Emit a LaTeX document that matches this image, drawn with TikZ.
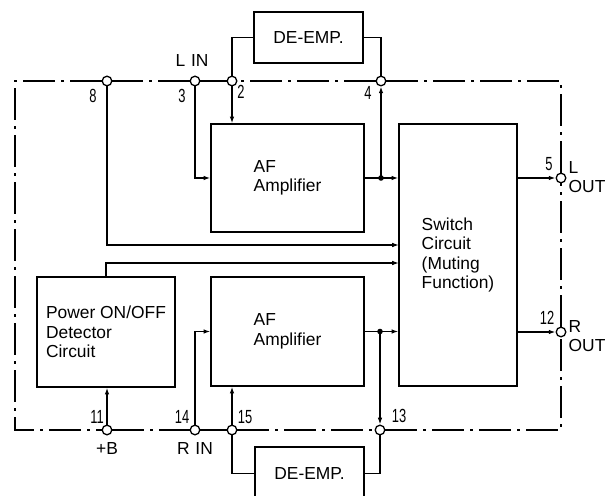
\documentclass[tikz,border=0pt]{standalone}
\usepackage{fontspec}
\setmainfont{Liberation Sans}
\usepackage{graphicx}
\usetikzlibrary{arrows.meta}
\newcommand{\nm}[1]{\scalebox{0.68}[1]{#1}}
\begin{document}
\begin{tikzpicture}[x=0.5pt,y=-0.5pt,
  line width=0.65pt,
  >={Latex[length=3.4pt,width=2.3pt]},
  blk/.style={draw,inner sep=0pt,font=\fontsize{8.7}{9.8}\selectfont},
  term/.style={circle,draw,fill=white,inner sep=0pt,minimum size=4.8pt},
  frame/.style={dash pattern=on 16pt off 3pt on 1.5pt off 3pt},
  lbl/.style={inner sep=0pt,font=\fontsize{8.7}{9.8}\selectfont},
  num/.style={inner sep=0pt,font=\fontsize{9.5}{10}\selectfont}]
\useasboundingbox (0,0) rectangle (616,496);
\clip (0,0) rectangle (616,496);
% boxes
\node[blk, minimum width=54.5pt, minimum height=25.5pt] (deT) at (308.5,37.5) {DE-EMP.};
\node[blk, minimum width=76.5pt, minimum height=54pt, align=left] (ampL) at (287.5,178) {AF\\Amplifier};
\node[blk, minimum width=59pt, minimum height=131pt, align=left] (sw) at (458,255) {Switch\\Circuit\\(Muting\\Function)};
\node[blk, minimum width=69pt, minimum height=55pt, align=left] (pw) at (106,332) {Power ON/OFF\\Detector\\Circuit};
\node[blk, minimum width=76.5pt, minimum height=54.5pt, align=left] (ampR) at (287.5,331.5) {AF\\Amplifier};
\node[blk, minimum width=54.5pt, minimum height=26.5pt] (deB) at (309.5,473.5) {DE-EMP.};
% terminals
\node[term] (t8) at (107,81) {};
\node[term] (t3) at (195,81) {};
\node[term] (t2) at (232,81) {};
\node[term] (t4) at (381,81) {};
\node[term] (t5) at (561,178) {};
\node[term] (t12) at (561,332) {};
\node[term] (t11) at (107,430) {};
\node[term] (t14) at (195,430) {};
\node[term] (t15) at (232,430) {};
\node[term] (t13) at (380,430) {};
% frame corners
\coordinate (cTL) at (15,81);
\coordinate (cTR) at (561,81);
\coordinate (cBR) at (561,430);
\coordinate (cBL) at (15,430);
\draw[frame] (t8.west) -- (cTL) -- (cBL) -- (t11.west);
\draw[frame] (t11.east) -- (t14.west);
\draw[frame] (t14.east) -- (t15.west);
\draw[frame] (t15.east) -- (t13.west);
\draw[frame] (t13.east) -- (cBR) -- (t12.south);
\draw[frame] (t12.north) -- (t5.south);
\draw[frame] (t5.north) -- (cTR) -- (t4.east);
\draw[frame] (t4.west) -- (t2.east);
\draw[frame] (t2.west) -- (t3.east);
\draw[frame] (t3.west) -- (t8.east);
% junctions and inputs
\coordinate (dL) at (t4 |- ampL.east);
\coordinate (dR) at (t13 |- ampR.east);
\coordinate (in8) at (399,245);
\coordinate (inPw) at (399,263);
% top connections
\draw (deT.west) -| (t2.north);
\draw (deT.east) -| (t4.north);
\draw[->] (t2.south) -- (t2.south |- ampL.north);
\draw[->] (t3.south) |- (ampL.west);
\draw[->] (ampL.east) -- (ampL.east -| sw.west);
\draw[->] (dL) -- (t4.south);
\fill (dL) circle (1.4pt);
\draw[->] (sw.east |- t5) -- (t5.west);
\draw[->] (t8.south) |- (in8);
\draw[->] (pw.north) |- (inPw);
% bottom connections
\draw[->] (t11.north) -- (t11 |- pw.south);
\draw[->] (t14.north) |- (ampR.west);
\draw[->] (t15.north) -- (t15 |- ampR.south);
\draw (t15.south) |- (deB.west);
\draw (deB.east) -| (t13.south);
\draw[->] (ampR.east) -- (ampR.east -| sw.west);
\draw[->] (dR) -- (t13.north);
\fill (dR) circle (1.4pt);
\draw[->] (sw.east |- t12) -- (t12.west);
% labels
\node[lbl] (lLIN) at (192,61) {L\,\,IN};
\node[lbl] (lRIN) at (195,449) {R\,\,IN};
\node[lbl] (lB) at (107,449) {+B};
\node[lbl, align=left, anchor=west] (lLOUT) at (568,177) {L\\OUT};
\node[lbl, align=left, anchor=west] (lROUT) at (568,336) {R\\OUT};
\node[num] (n8) at (93,96) {\nm{8}};
\node[num] (n3) at (182,96) {\nm{3}};
\node[num] (n2) at (241,92) {\nm{2}};
\node[num] (n4) at (368,93) {\nm{4}};
\node[num] (n5) at (549,164) {\nm{5}};
\node[num] (n12) at (547,318) {\nm{12}};
\node[num] (n11) at (97,417) {\nm{11}};
\node[num] (n14) at (182,417) {\nm{14}};
\node[num] (n15) at (245,417) {\nm{15}};
\node[num] (n13) at (399,416) {\nm{13}};
\end{tikzpicture}
\end{document}
